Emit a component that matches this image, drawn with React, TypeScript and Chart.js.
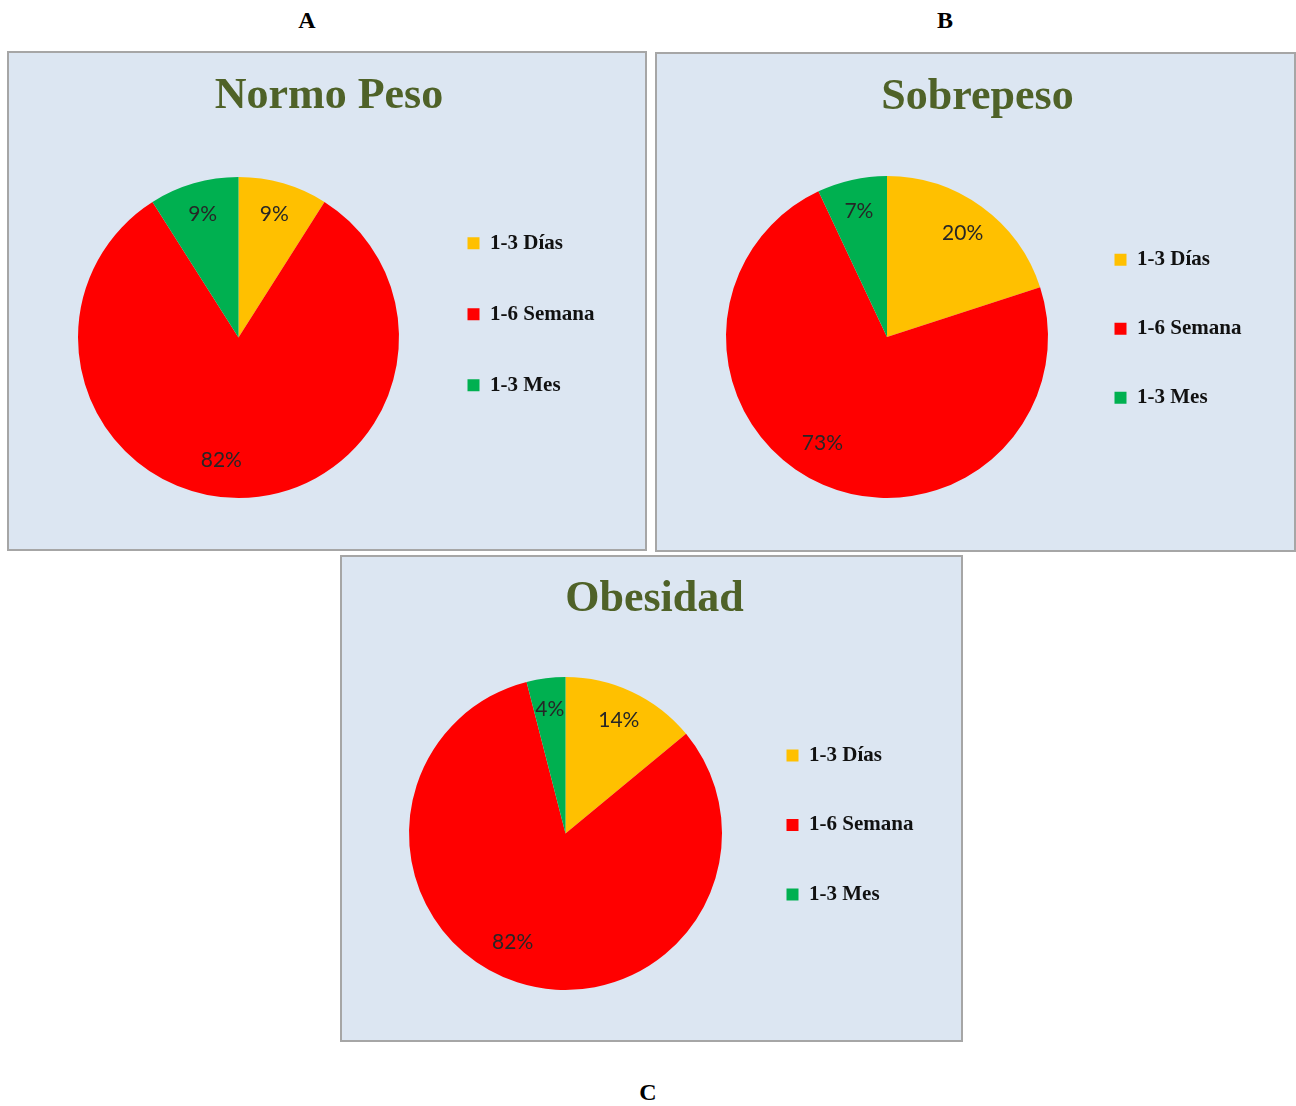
import React, { useEffect, useRef } from 'react';
import { Chart, registerables } from 'chart.js';

Chart.register(...registerables);

// Frequency groups shown in every panel
const categories = ['1-3 Días', '1-6 Semana', '1-3 Mes'];

// Share of each frequency group (%) per weight class
const normoPesoValues = [9, 82, 9];
const sobrepesoValues = [20, 73, 7];
const obesidadValues = [14, 82, 4];

const panelTitles = ['Normo Peso', 'Sobrepeso', 'Obesidad'];
const panelLetters = ['A', 'B', 'C'];

const sliceColors = ['#FFC000', '#FF0000', '#00B050'];

const SERIF = '"Liberation Serif", "Times New Roman", "DejaVu Serif", serif';
const LABEL_FONT = '21px Lato, Calibri, "Liberation Sans", sans-serif';
const TITLE_COLOR = '#4F6228';
const PANEL_BG = '#DCE6F2';
const PANEL_BORDER = '#A6A6A6';
const BORDER = 2;
const LEGEND_FONT_SIZE = 21;

interface PanelSpec {
  title: string;
  values: number[];
  left: number;
  top: number;
  width: number;
  height: number;
  titleTop: number;
  titleBottom: number;
  padLeft: number;
  padRight: number;
  padBottom: number;
  legendGap: number;
  legendWidth: number;
  legendLift: number;
}

const panels: PanelSpec[] = [
  {
    title: panelTitles[0], values: normoPesoValues,
    left: 7, top: 51, width: 640, height: 500,
    titleTop: 17.6, titleBottom: 53.6, padLeft: 50.5, padRight: 46.5, padBottom: 51,
    legendGap: 50, legendWidth: 181, legendLift: 129.7,
  },
  {
    title: panelTitles[1], values: sobrepesoValues,
    left: 655, top: 52, width: 641, height: 500,
    titleTop: 17.6, titleBottom: 51.6, padLeft: 50.5, padRight: 46.5, padBottom: 52,
    legendGap: 48, legendWidth: 181, legendLift: 147.3,
  },
  {
    title: panelTitles[2], values: obesidadValues,
    left: 340, top: 555, width: 623, height: 487,
    titleTop: 16.6, titleBottom: 50.6, padLeft: 51, padRight: 45, padBottom: 50,
    legendGap: 48.5, legendWidth: 178, legendLift: 139.5,
  },
];

// Percentage labels placed inside each slice
const sliceLabels = {
  id: 'sliceLabels',
  afterDatasetsDraw(chart: any) {
    const { ctx } = chart;
    const meta = chart.getDatasetMeta(0);
    const values = chart.data.datasets[0].data as number[];
    const total = values.reduce((a, b) => a + b, 0);
    ctx.save();
    ctx.font = LABEL_FONT;
    ctx.fillStyle = '#262626';
    ctx.textAlign = 'center';
    ctx.textBaseline = 'middle';
    meta.data.forEach((el: any, i: number) => {
      const { x, y, startAngle, endAngle, outerRadius } = el.getProps(
        ['x', 'y', 'startAngle', 'endAngle', 'outerRadius'],
        true
      );
      const big = values[i] / total > 0.5;
      const mid = (startAngle + endAngle) / 2 + (big ? (8 * Math.PI) / 180 : 0);
      const dist = outerRadius * (big ? 0.77 : 0.8);
      ctx.fillText(`${values[i]}%`, x + Math.cos(mid) * dist, y + Math.sin(mid) * dist);
    });
    ctx.restore();
  },
};

function PiePanel({ spec }: { spec: PanelSpec }) {
  const ref = useRef<HTMLCanvasElement | null>(null);
  const w = spec.width - 2 * BORDER;
  const h = spec.height - 2 * BORDER;

  useEffect(() => {
    if (!ref.current) return;
    const chart = new Chart(ref.current, {
      type: 'pie',
      data: {
        labels: categories,
        datasets: [
          {
            data: spec.values,
            backgroundColor: sliceColors,
            borderWidth: 0,
            hoverBorderWidth: 0,
            offset: 0,
            hoverOffset: 0,
          },
        ],
      },
      options: {
        responsive: false,
        animation: false,
        events: [],
        layout: {
          padding: { left: spec.padLeft, right: spec.padRight, top: 0, bottom: spec.padBottom },
        },
        plugins: {
          title: {
            display: true,
            text: spec.title,
            color: TITLE_COLOR,
            font: { family: SERIF, size: 44, weight: 'bold', lineHeight: 1.2 },
            padding: { top: spec.titleTop, bottom: spec.titleBottom },
          },
          legend: {
            position: 'right',
            align: 'start',
            maxWidth: spec.legendWidth,
            title: {
              display: true,
              text: '',
              font: { size: 1, lineHeight: 1 },
              padding: { top: 0, bottom: spec.legendLift - 1 },
            },
            labels: {
              boxWidth: 12,
              boxHeight: 12,
              padding: spec.legendGap,
              color: '#111111',
              font: { family: SERIF, size: LEGEND_FONT_SIZE, weight: 'bold' },
            },
          },
          tooltip: { enabled: false },
        },
      } as any,
      plugins: [sliceLabels],
    });
    return () => chart.destroy();
  }, [spec]);

  return (
    <div
      style={{
        position: 'absolute',
        left: spec.left,
        top: spec.top,
        width: spec.width,
        height: spec.height,
        boxSizing: 'border-box',
        border: `${BORDER}px solid ${PANEL_BORDER}`,
        background: PANEL_BG,
      }}
    >
      <canvas ref={ref} width={w} height={h} style={{ display: 'block', width: w, height: h }} />
    </div>
  );
}

const letterPositions = [
  { x: 307, y: 20 },
  { x: 945, y: 20 },
  { x: 648, y: 1092 },
];

export default function App() {
  return (
    <div
      style={{
        position: 'absolute',
        left: 0,
        top: 0,
        width: 1296,
        height: 1106,
        background: '#FFFFFF',
        overflow: 'hidden',
      }}
    >
      {panelLetters.map((letter, i) => (
        <div
          key={letter}
          style={{
            position: 'absolute',
            left: letterPositions[i].x - 20,
            top: letterPositions[i].y - 14,
            width: 40,
            height: 28,
            lineHeight: '28px',
            textAlign: 'center',
            fontFamily: SERIF,
            fontWeight: 'bold',
            fontSize: 24,
            color: '#000000',
          }}
        >
          {letter}
        </div>
      ))}
      {panels.map((p) => (
        <PiePanel key={p.title} spec={p} />
      ))}
    </div>
  );
}
